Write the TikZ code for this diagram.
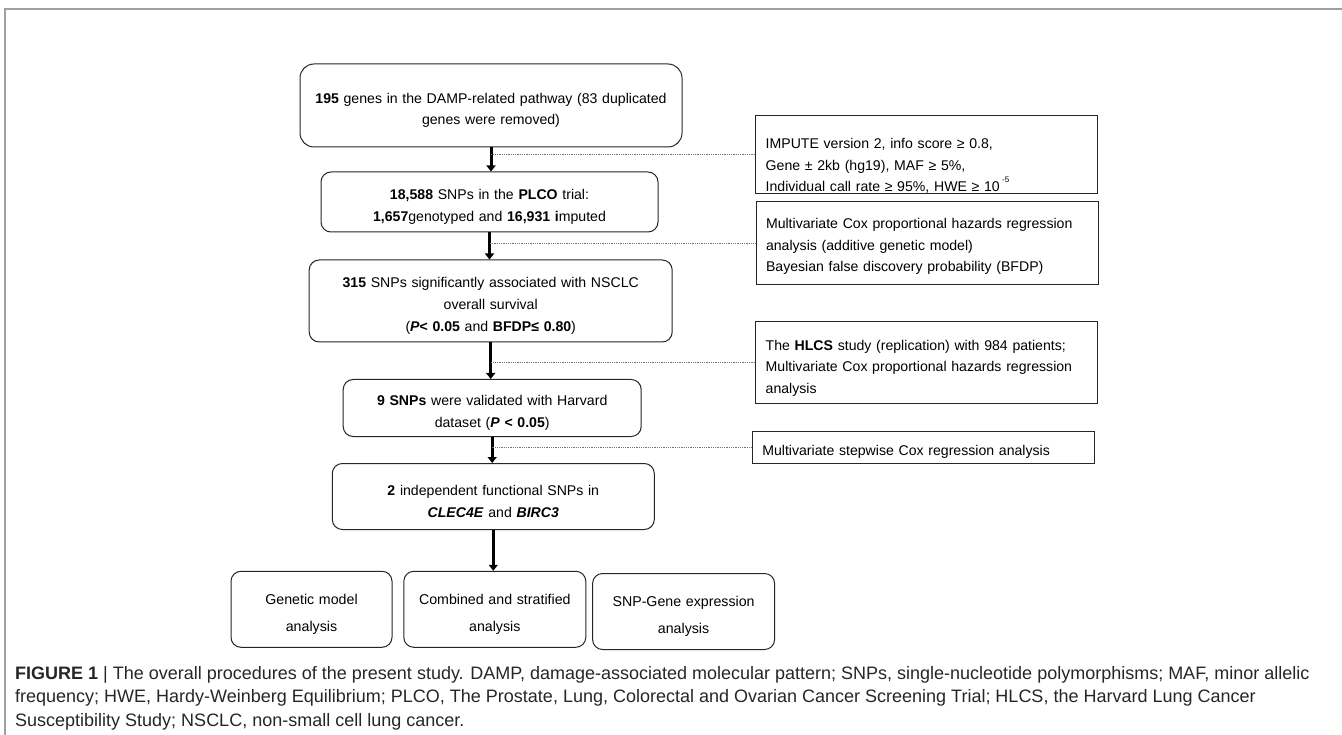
\documentclass[tikz,border=0pt]{standalone}
\usepackage{fontspec}
\setmainfont{Liberation Sans}
\newfontfamily\capfont{Liberation Sans}
\usetikzlibrary{arrows.meta}

\begin{document}
\begin{tikzpicture}[x=1pt, y=-1pt,
    textdrop/.style={execute at begin node={\rule{0pt}{#1}}},
    mainbox/.style={draw=black!85, line width=1pt, rounded corners=10pt, align=center,
        text width=#1, inner sep=0pt, textdrop=20pt, font=\fontsize{14.1}{21.8}\selectfont},
    endbox/.style={draw=black!85, line width=1pt, rounded corners=10pt, align=center,
        text width=#1, inner sep=0pt, minimum height=76pt, textdrop=20pt, font=\fontsize{14.2}{27}\selectfont},
    sidebox/.style={draw=black!85, line width=1pt, align=left, inner xsep=10pt,
        inner ysep=0pt, text width=322pt, font=\fontsize{14.1}{21.5}\selectfont},
    flow/.style={line width=3pt, -{Triangle[width=9pt,length=6pt]}},
    dotlink/.style={draw=black!55, line width=0.7pt, dash pattern=on 1pt off 0.8pt}]
    \useasboundingbox (0,0) rectangle (1342,735);

    % Frame of the figure
    \draw[gray!75, line width=1.2pt] (5,735) -- (5,9) -- (1342,9);

    % Main steps
    \node[mainbox=382pt, minimum height=83pt, rounded corners=14pt] (genes) at (491,105.5)
        {\textbf{195} genes in the DAMP-related pathway (83 duplicated\\genes were removed)};
    \node[mainbox=337pt, minimum height=60pt] (plco) at (489.5,202)
        {\textbf{18,588} SNPs in the \textbf{PLCO} trial:\\\textbf{1,657}genotyped and \textbf{16,931} \textbf{i}mputed};
    \node[mainbox=363pt, minimum height=82pt] (sig) at (490.7,301)
        {\textbf{315} SNPs significantly associated with NSCLC\\overall survival\\(\textbf{\textit{P}< 0.05} and \textbf{BFDP≤ 0.80})};
    \node[mainbox=298pt, minimum height=57pt] (valid) at (492.2,408)
        {\textbf{9 SNPs} were validated with Harvard\\dataset (\textbf{\textit{P} < 0.05})};
    \node[mainbox=322pt, minimum height=66pt] (func) at (493.3,496.5)
        {\textbf{2} independent functional SNPs in\\\textbf{\textit{CLEC4E}} and \textbf{\textit{BIRC3}}};

    % Follow-up analyses
    \node[endbox=161pt] (genetic) at (311.5,609.3) {Genetic model\\analysis};
    \node[endbox=182pt] (combined) at (494.8,609.3) {Combined and stratified\\analysis};
    \node[endbox=182pt] (expression) at (683.6,611.5) {SNP-Gene expression\\analysis};

    % Criteria at the side
    \node[sidebox, minimum height=75.6pt, textdrop=33pt] (impute) at (926.7,154.5)
        {IMPUTE version 2, info score ≥ 0.8,\\Gene ± 2kb (hg19), MAF ≥ 5\%,\\Individual call rate ≥ 95\%, HWE ≥ 10\,\raisebox{1.2ex}{\fontsize{8}{8}\selectfont -5}};
    \node[sidebox, minimum height=82.6pt, textdrop=17pt] (cox) at (927,243)
        {Multivariate Cox proportional hazards regression\\analysis (additive genetic model)\\Bayesian false discovery probability (BFDP)};
    \node[sidebox, minimum height=82.3pt, textdrop=22pt] (hlcs) at (926.7,362.2)
        {The \textbf{HLCS} study (replication) with 984 patients;\\Multivariate Cox proportional hazards regression\\analysis};
    \node[sidebox, minimum height=31.6pt, textdrop=19pt] (stepwise) at (923.3,447.5)
        {Multivariate stepwise Cox regression analysis};

    % Arrows between the steps
    \foreach \a/\b in {genes/plco, plco/sig, sig/valid, valid/func, func/combined}
        \draw[flow] (\a.south) -- (\a.south |- \b.north);

    % Dotted links to the criteria
    \foreach \s/\a in {impute/genes, cox/plco, hlcs/sig, stepwise/valid}
        \draw[dotlink] (\s.west) -- (\s.west -| \a.south);

    % Caption
    \node[anchor=north west, align=left, inner sep=0pt, text=black!85,
        font=\capfont\fontsize{18}{23.5}\selectfont] (caption) at (15,666)
        {\textbf{FIGURE 1} | The overall procedures of the present study. DAMP, damage-associated molecular pattern; SNPs, single-nucleotide polymorphisms; MAF, minor allelic\\
        frequency; HWE, Hardy-Weinberg Equilibrium; PLCO, The Prostate, Lung, Colorectal and Ovarian Cancer Screening Trial; HLCS, the Harvard Lung Cancer\\
        Susceptibility Study; NSCLC, non-small cell lung cancer.};
\end{tikzpicture}
\end{document}
